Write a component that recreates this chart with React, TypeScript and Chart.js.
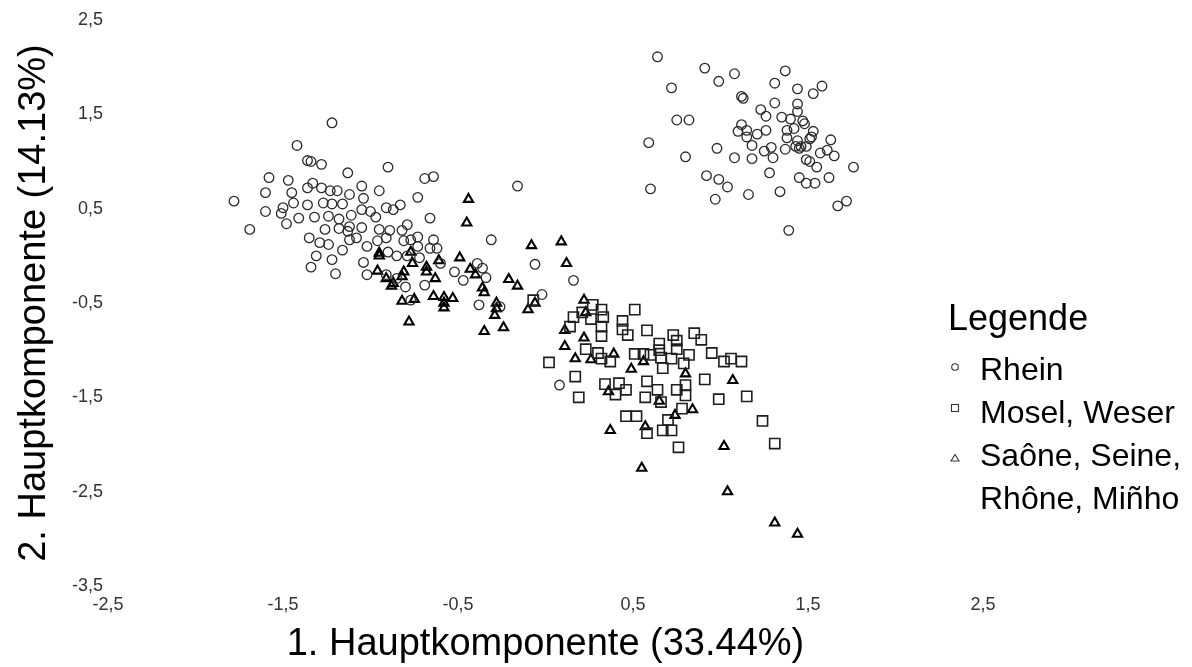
import React, { useEffect, useRef } from "react";
import { Chart, registerables } from "chart.js";

Chart.register(...registerables);

const xTickValues = [-2.5, -1.5, -0.5, 0.5, 1.5, 2.5];
const yTickValues = [-3.5, -2.5, -1.5, -0.5, 0.5, 1.5, 2.5];
const xTitle = "1. Hauptkomponente (33.44%)";
const yTitle = "2. Hauptkomponente (14.13%)";
const legendTitle = "Legende";
const seriesNames = ["Rhein", "Mosel, Weser", "Saône, Seine,\nRhône, Miñho"];

const rheinX = [
  -1.22, -1.42, -1.78, -1.36, -1.34, -1.28, -0.9, -1.13, -1.58, -1.47, -1.33, -0.69, -0.64,
  -1.6, -1.45, -1.36, -1.28, -1.23, -1.19, -1.12, -1.05, -0.95, -1.04, -0.73, -1.44, -1.36,
  -1.27, -1.22, -1.16, -1.5, -1.51, -1.6, -1.48, -1.41, -1.32, -1.24, -1.18, -1.11, -1.05,
  -1.0, -0.97, -0.91, -0.83, -0.87, -0.66, -1.69, -1.26, -1.18, -1.12, -1.13, -1.05, -0.95,
  -0.89, -0.82, -1.35, -1.29, -1.24, -1.12, -1.08, -0.96, -0.91, -0.81, -0.77, -0.73, -1.02,
  -0.9, -0.85, -0.79, -0.72, -0.64, -0.66, -1.16, -1.31, -1.22, -1.04, -1.34, -1.2, -1.02,
  -0.91, -0.85, -0.8, -0.69, -0.6, -0.62, -0.16, -0.79, -0.73, -0.31, -0.06, 0.16, -0.52,
  -0.47, -0.39, -0.36, -0.34, -0.38, -0.26, -0.02, -0.77, 0.08,
  0.64, 0.91, 0.99, 1.08, 1.37, 0.72, 1.31, 1.44, 1.58, 1.53, 1.12, 1.13, 1.44, 1.31, 1.23,
  1.26, 1.35, 1.4, 1.44, 1.47, 1.48, 0.75, 0.82, 1.12, 1.1, 1.15, 1.15, 1.21, 1.26, 1.38,
  1.42, 1.38, 1.44, 1.46, 1.43, 1.45, 1.49, 1.53, 1.52, 1.51, 1.18, 0.59, 0.98, 1.25, 1.29,
  1.3, 1.37, 1.08, 1.18, 0.8, 1.63, 1.57, 1.61, 1.65, 1.49, 1.51, 1.55, 1.76, 1.28, 0.92,
  0.99, 1.04, 1.45, 1.49, 1.54, 1.62, 0.6, 0.97, 1.16, 1.34, 1.67, 1.72, 1.39,
];
const rheinY = [
  1.41, 1.17, 0.58, 1.01, 1.0, 0.97, 0.94, 0.88, 0.83, 0.8, 0.77, 0.82, 0.84,
  0.67, 0.67, 0.72, 0.72, 0.69, 0.69, 0.65, 0.74, 0.69, 0.61, 0.62, 0.56, 0.54,
  0.56, 0.55, 0.55, 0.51, 0.45, 0.47, 0.34, 0.4, 0.41, 0.42, 0.39, 0.43, 0.49,
  0.47, 0.41, 0.51, 0.54, 0.49, 0.4, 0.28, 0.28, 0.29, 0.31, 0.26, 0.3, 0.28,
  0.27, 0.27, 0.19, 0.14, 0.12, 0.17, 0.19, 0.16, 0.19, 0.16, 0.17, 0.2, 0.1,
  0.04, 0.0, 0.0, -0.02, 0.17, 0.08, 0.06, 0.0, -0.04, -0.07, -0.12, -0.19, -0.2,
  -0.2, -0.24, -0.33, -0.31, -0.08, 0.08, 0.74, 0.33, 0.1, 0.17, -0.09, -0.26, -0.17,
  -0.26, -0.08, -0.13, -0.23, -0.52, -0.54, -0.41, -0.47, -1.37,
  2.11, 1.99, 1.85, 1.93, 1.96, 1.78, 1.83, 1.77, 1.8, 1.72, 1.69, 1.67, 1.61, 1.62, 1.55,
  1.48, 1.47, 1.45, 1.53, 1.43, 1.4, 1.44, 1.44, 1.39, 1.32, 1.33, 1.26, 1.29, 1.33, 1.33,
  1.35, 1.25, 1.22, 1.16, 1.16, 1.14, 1.16, 1.32, 1.26, 1.24, 1.17, 1.2, 1.14, 1.11, 1.15,
  1.04, 1.13, 1.04, 1.03, 1.05, 1.23, 1.09, 1.12, 1.06, 1.02, 1.0, 0.94, 0.94, 0.88, 0.85,
  0.81, 0.73, 0.83, 0.77, 0.77, 0.83, 0.71, 0.6, 0.65, 0.68, 0.53, 0.58, 0.27,
];

const moselX = [
  -0.07, 0.14, 0.27, 0.32, 0.21, 0.16, 0.26, 0.33, 0.32, 0.32, 0.44, 0.44, 0.47, 0.51, 0.58,
  0.73, 0.75, 0.75, 0.65, 0.65, 0.85, 0.89, 0.23, 0.3, 0.32, 0.37, 0.51, 0.56, 0.6, 0.66,
  0.67, 0.72, 0.79, 0.82, 0.95, 1.02, 1.06, 1.12, 0.02, 0.17, 0.19, 0.34, 0.42, 0.46, 0.4,
  0.58, 0.64, 0.57, 0.75, 0.8, 0.8, 0.66, 0.78, 0.91, 0.99, 1.15, 0.46, 0.52, 0.7, 0.67,
  0.72, 0.58, 0.76, 1.24, 1.31,
];
const moselY = [
  -0.47, -0.75, -0.52, -0.57, -0.6, -0.65, -0.67, -0.65, -0.75, -0.85, -0.69, -0.78, -0.84,
  -0.57, -0.79, -0.84, -0.9, -0.99, -0.93, -1.0, -0.82, -0.89, -0.99, -1.03, -1.09, -1.12,
  -1.04, -1.04, -1.05, -1.08, -1.19, -1.09, -1.14, -1.05, -1.03, -1.12, -1.09, -1.12, -1.13,
  -1.28, -1.5, -1.36, -1.35, -1.42, -1.47, -1.33, -1.42, -1.5, -1.42, -1.37, -1.48, -1.55,
  -1.62, -1.31, -1.52, -1.49, -1.7, -1.7, -1.74, -1.85, -1.85, -1.88, -2.03, -1.75, -1.99,
];

const saoneX = [
  -0.44, -0.45, -0.95, -0.95, -0.77, -0.76, -0.68, -0.68, -0.61, -0.49, -0.96, -0.91, -0.88,
  -0.87, -0.82, -0.81, -0.63, -0.43, -0.4, -0.36, -0.35, -0.21, -0.16, -0.82, -0.75, -0.64,
  -0.58, -0.58, -0.58, -0.53, -0.78, -0.28, -0.28, -0.29, -0.35, -0.24, -0.1, -0.06, -0.08,
  0.09, 0.12, 0.22, 0.23, 0.11, 0.22, 0.11, 0.17, 0.26, 0.39, 0.49, 0.56, 0.8, 1.07, 0.36,
  0.65, 0.74, 0.84, 0.57, 0.37, 1.02, 0.55, 1.04, 1.31, 1.44,
];
const saoneY = [
  0.6, 0.35, 0.03, 0.0, 0.04, -0.08, -0.12, -0.17, -0.05, -0.02, -0.16, -0.24, -0.32,
  -0.29, -0.22, -0.17, -0.24, -0.14, -0.2, -0.34, -0.39, -0.25, -0.32, -0.48, -0.46, -0.43,
  -0.44, -0.5, -0.55, -0.45, -0.7, -0.5, -0.56, -0.63, -0.8, -0.76, -0.57, -0.5, 0.11,
  0.15, -0.08, -0.47, -0.6, -0.79, -0.87, -0.96, -1.09, -1.1, -1.04, -1.2, -1.12, -1.25,
  -1.32, -1.44, -1.54, -1.69, -1.63, -1.81, -1.85, -2.02, -2.25, -2.5, -2.83, -2.95,
];

const FONT = "'Liberation Sans', Arial, sans-serif";

function toPoints(xs: number[], ys: number[]) {
  return xs.map((x, i) => ({ x, y: ys[i] }));
}

function fmtTick(v: number | string) {
  return Number(v).toFixed(1).replace(".", ",");
}

export default function App() {
  const canvasRef = useRef<HTMLCanvasElement | null>(null);

  useEffect(() => {
    const canvas = canvasRef.current;
    if (!canvas) return;
    const chart = new Chart(canvas, {
      type: "scatter",
      data: {
        datasets: [
          {
            label: seriesNames[0],
            data: toPoints(rheinX, rheinY),
            pointStyle: "circle",
            pointRadius: 4.8,
            borderColor: "#2b2b2b",
            borderWidth: 1.3,
            backgroundColor: "rgba(0,0,0,0)",
          },
          {
            label: seriesNames[1],
            data: toPoints(moselX, moselY),
            pointStyle: "rect",
            pointRadius: 7.2,
            borderColor: "#1e1e1e",
            borderWidth: 1.6,
            backgroundColor: "rgba(0,0,0,0)",
          },
          {
            label: seriesNames[2],
            data: toPoints(saoneX, saoneY),
            pointStyle: "triangle",
            pointRadius: 5.3,
            borderColor: "#000000",
            borderWidth: 2.1,
            backgroundColor: "rgba(0,0,0,0)",
          },
        ],
      },
      options: {
        animation: false,
        responsive: false,
        maintainAspectRatio: false,
        layout: { padding: { left: 0, right: 209, top: 20, bottom: 0 } },
        plugins: { legend: { display: false }, tooltip: { enabled: false } },
        scales: {
          x: {
            type: "linear",
            min: xTickValues[0],
            max: xTickValues[xTickValues.length - 1],
            grid: { display: false, drawTicks: false },
            border: { display: false },
            afterBuildTicks: (axis: any) => {
              axis.ticks = xTickValues.map((value) => ({ value }));
            },
            ticks: {
              autoSkip: false,
              maxRotation: 0,
              padding: 8,
              color: "#333333",
              font: { family: FONT, size: 18 },
              callback: (v: any) => fmtTick(v),
            },
            title: {
              display: true,
              text: xTitle,
              color: "#000000",
              font: { family: FONT, size: 38 },
              padding: { top: 0, bottom: 0 },
            },
            afterFit: (axis: any) => {
              axis.height = 81;
            },
          },
          y: {
            type: "linear",
            min: yTickValues[0],
            max: yTickValues[yTickValues.length - 1],
            grid: { display: false, drawTicks: false },
            border: { display: false },
            afterBuildTicks: (axis: any) => {
              axis.ticks = yTickValues.map((value) => ({ value }));
            },
            ticks: {
              autoSkip: false,
              padding: 5,
              color: "#333333",
              font: { family: FONT, size: 18 },
              callback: (v: any) => fmtTick(v),
            },
            title: {
              display: true,
              text: yTitle,
              color: "#000000",
              font: { family: FONT, size: 38 },
              padding: { top: 12, bottom: 0 },
            },
            afterFit: (axis: any) => {
              axis.width = 108;
            },
          },
        },
      },
    });
    return () => chart.destroy();
  }, []);

  const itemStyle: React.CSSProperties = {
    position: "absolute",
    left: 980,
    fontFamily: FONT,
    fontSize: 32,
    lineHeight: "32px",
    color: "#000",
    whiteSpace: "nowrap",
  };
  const labelLines = seriesNames[2].split("\n");

  return (
    <div style={{ position: "absolute", left: 0, top: 0, width: 1192, height: 667, background: "#fff" }}>
      <canvas ref={canvasRef} width={1192} height={667} style={{ display: "block" }} />
      <div
        style={{
          position: "absolute",
          left: 948,
          top: 300,
          fontFamily: FONT,
          fontSize: 36,
          lineHeight: "36px",
          color: "#000",
          whiteSpace: "nowrap",
        }}
      >
        {legendTitle}
      </div>
      <svg style={{ position: "absolute", left: 945, top: 355 }} width={20} height={115}>
        <circle cx={10} cy={12} r={3.3} fill="none" stroke="#333" strokeWidth={1.1} />
        <rect x={6.5} y={49.5} width={7} height={7} fill="none" stroke="#333" strokeWidth={1.1} />
        <polygon points="10,99.5 6,106 14,106" fill="none" stroke="#333" strokeWidth={1.1} />
      </svg>
      <div style={{ ...itemStyle, top: 353 }}>{seriesNames[0]}</div>
      <div style={{ ...itemStyle, top: 396 }}>{seriesNames[1]}</div>
      <div style={{ ...itemStyle, top: 439 }}>{labelLines[0]}</div>
      <div style={{ ...itemStyle, top: 482 }}>{labelLines[1]}</div>
    </div>
  );
}
